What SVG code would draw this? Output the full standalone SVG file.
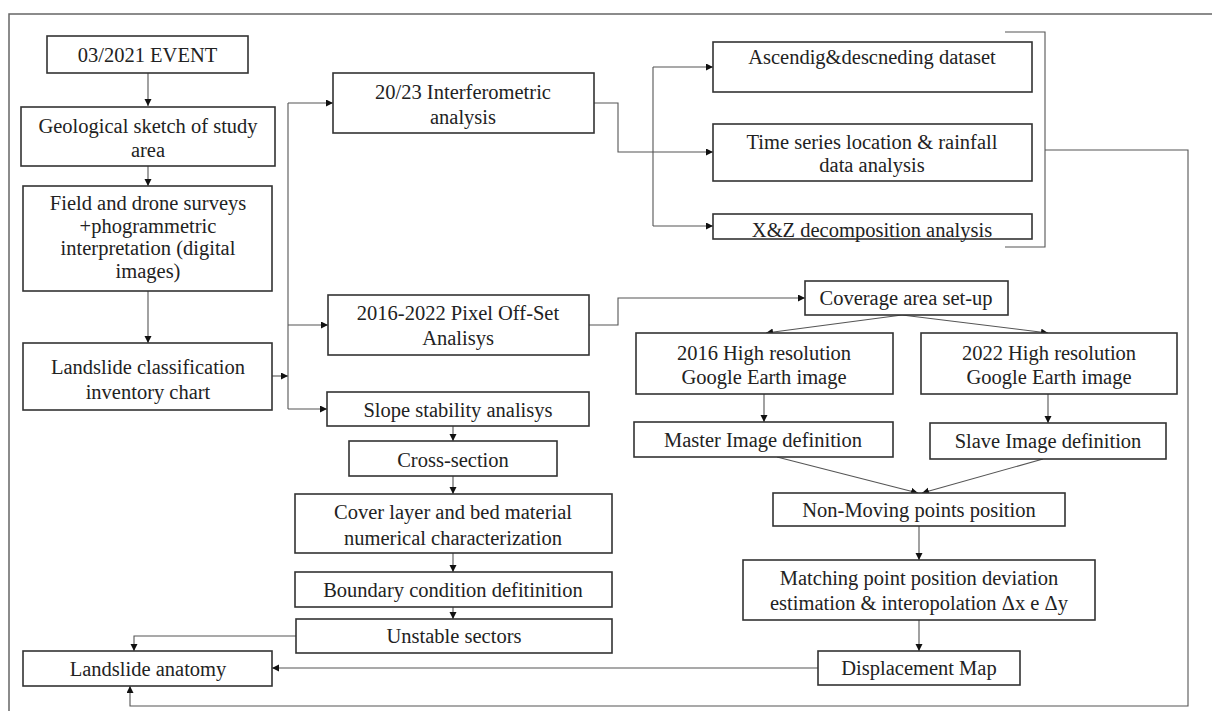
<svg xmlns="http://www.w3.org/2000/svg" width="1212" height="711" viewBox="0 0 1212 711">
<defs>
<marker id="ah" markerUnits="userSpaceOnUse" markerWidth="8" markerHeight="8" refX="7" refY="3.5" orient="auto">
<path d="M0,0 L7,3.5 L0,7 z" fill="#111"/>
</marker>
<style>
.box{fill:#fff;stroke:#333;stroke-width:1.6}
.t{font-family:"Liberation Serif",serif;font-size:20.5px;fill:#222;text-anchor:middle}
.c{fill:none;stroke:#555;stroke-width:1.1}
.ca{fill:none;stroke:#555;stroke-width:1.1;marker-end:url(#ah)}
.frame{fill:none;stroke:#666;stroke-width:1.5}
</style>
</defs>
<rect width="1212" height="711" fill="#fff"/>
<path class="frame" d="M9,711 L9,14 L1212,14"/>
<g id="connectors">
<path class="ca" d="M148,73 L148,106"/>
<path class="ca" d="M148,166 L148,186"/>
<path class="ca" d="M148,291 L148,343"/>
<path class="ca" d="M272,376 L288,376"/>
<path class="c" d="M288,103 L288,409"/>
<path class="ca" d="M288,103 L333,103"/>
<path class="ca" d="M288,325 L328,325"/>
<path class="ca" d="M288,409 L327,409"/>
<path class="ca" d="M453,426 L453,441"/>
<path class="ca" d="M453,476 L453,494"/>
<path class="ca" d="M453,553 L453,572"/>
<path class="ca" d="M453,607 L453,619"/>
<path class="ca" d="M296,636 L134,636 L134,651"/>
<path class="ca" d="M818,668 L272,668"/>
<path class="ca" d="M1045,150 L1188,150 L1188,706 L130,706 L130,686"/>
<path class="c" d="M594,103 L618,103 L618,152 L653,152"/>
<path class="c" d="M653,67 L653,226"/>
<path class="ca" d="M653,67 L713,67"/>
<path class="ca" d="M653,152 L713,152"/>
<path class="ca" d="M653,226 L713,226"/>
<path class="c" d="M1005,32 L1045,32 L1045,247 L1005,247"/>
<path class="ca" d="M589,325 L618,325 L618,298 L805,298"/>
<path class="ca" d="M902,315 L766,333"/>
<path class="ca" d="M902,315 L1048,333"/>
<path class="ca" d="M764,394 L764,422"/>
<path class="ca" d="M1048,394 L1048,423"/>
<path class="ca" d="M777,457 L918,493"/>
<path class="ca" d="M1043,459 L922,493"/>
<path class="ca" d="M919,526 L919,560"/>
<path class="ca" d="M919,620 L919,651"/>
</g>
<g id="n_event"><rect class="box" x="47" y="36" width="201" height="37"/><text class="t" x="147.5" y="62">03/2021 EVENT</text></g>
<g id="n_geo"><rect class="box" x="21" y="107" width="254" height="59"/><text class="t" x="148" y="133">Geological sketch of study</text><text class="t" x="148" y="157">area</text></g>
<g id="n_field"><rect class="box" x="23" y="186" width="249" height="105"/><text class="t" x="148" y="210">Field and drone surveys</text><text class="t" x="148" y="233">+phogrammetric</text><text class="t" x="148" y="255">interpretation (digital</text><text class="t" x="148" y="278">images)</text></g>
<g id="n_class"><rect class="box" x="23" y="343" width="249" height="67"/><text class="t" x="148" y="374">Landslide classification</text><text class="t" x="148" y="399">inventory chart</text></g>
<g id="n_anatomy"><rect class="box" x="23" y="651" width="249" height="35"/><text class="t" x="148" y="676">Landslide anatomy</text></g>
<g id="n_interf"><rect class="box" x="333" y="73" width="261" height="60"/><text class="t" x="463" y="99">20/23 Interferometric</text><text class="t" x="463" y="124">analysis</text></g>
<g id="n_pixel"><rect class="box" x="328" y="295" width="261" height="60"/><text class="t" x="458" y="320">2016-2022 Pixel Off-Set</text><text class="t" x="458" y="345">Analisys</text></g>
<g id="n_slope"><rect class="box" x="327" y="392" width="262" height="34"/><text class="t" x="458" y="417">Slope stability analisys</text></g>
<g id="n_cross"><rect class="box" x="349" y="441" width="208" height="35"/><text class="t" x="453" y="467">Cross-section</text></g>
<g id="n_cover"><rect class="box" x="295" y="494" width="317" height="59"/><text class="t" x="453" y="519">Cover layer and bed material</text><text class="t" x="453" y="545">numerical characterization</text></g>
<g id="n_boundary"><rect class="box" x="295" y="572" width="317" height="35"/><text class="t" x="453" y="597">Boundary condition defitinition</text></g>
<g id="n_unstable"><rect class="box" x="296" y="619" width="316" height="34"/><text class="t" x="454" y="643">Unstable sectors</text></g>
<g id="n_asc"><rect class="box" x="713" y="42" width="319" height="50"/><text class="t" x="872" y="64">Ascendig&amp;descneding dataset</text></g>
<g id="n_time"><rect class="box" x="713" y="124" width="319" height="57"/><text class="t" x="872" y="149">Time series location &amp; rainfall</text><text class="t" x="872" y="172">data analysis</text></g>
<g id="n_xz"><rect class="box" x="713" y="214" width="319" height="25"/><text class="t" x="872" y="237">X&amp;Z decomposition analysis</text></g>
<g id="n_coverage"><rect class="box" x="805" y="281" width="203" height="34"/><text class="t" x="906" y="305">Coverage area set-up</text></g>
<g id="n_2016"><rect class="box" x="636" y="333" width="257" height="61"/><text class="t" x="764" y="360">2016 High resolution</text><text class="t" x="764" y="384">Google Earth image</text></g>
<g id="n_2022"><rect class="box" x="921" y="333" width="256" height="61"/><text class="t" x="1049" y="360">2022 High resolution</text><text class="t" x="1049" y="384">Google Earth image</text></g>
<g id="n_master"><rect class="box" x="634" y="422" width="259" height="35"/><text class="t" x="763" y="447">Master Image definition</text></g>
<g id="n_slave"><rect class="box" x="930" y="423" width="236" height="36"/><text class="t" x="1048" y="448">Slave Image definition</text></g>
<g id="n_nonmoving"><rect class="box" x="773" y="493" width="292" height="33"/><text class="t" x="919" y="517">Non-Moving points position</text></g>
<g id="n_matching"><rect class="box" x="743" y="560" width="352" height="60"/><text class="t" x="919" y="585">Matching point position deviation</text><text class="t" x="919" y="610">estimation &amp; interopolation Δx e Δy</text></g>
<g id="n_disp"><rect class="box" x="818" y="651" width="202" height="34"/><text class="t" x="919" y="675">Displacement Map</text></g>
</svg>
